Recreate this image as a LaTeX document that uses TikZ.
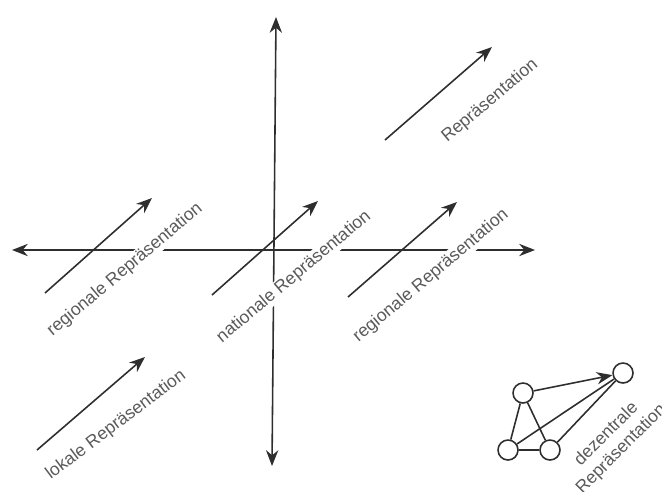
\documentclass[tikz,border=0pt]{standalone}
\usepackage{fontspec}
\setmainfont{Liberation Sans}
\usetikzlibrary{arrows.meta, positioning}
\definecolor{inkgray}{HTML}{2e2e2e}
\definecolor{textgray}{HTML}{5a5a5a}

\begin{document}
\begin{tikzpicture}[x=0.02cm, y=-0.02cm,
  axes/.style={{Stealth[length=9pt,width=7pt]}-{Stealth[length=9pt,width=7pt]}, inkgray, line width=0.9pt},
  repr/.style={-{Stealth[length=9pt,width=7pt]}, inkgray, line width=0.9pt},
  reprlabel/.style={font=\fontsize{10}{12}\selectfont, textgray, rotate=40, fill=white, inner sep=0.6pt},
  agent/.style={circle, draw=inkgray, line width=0.9pt, minimum size=0.4cm, inner sep=0pt}]
  \useasboundingbox (0,0) rectangle (662,491);

  % Axes
  \coordinate (west) at (12,250);
  \coordinate (east) at (535,250);
  \coordinate (north) at (276,17);
  \coordinate (south) at (272,466);
  \draw[axes] (west) -- (east);
  \draw[axes] (north) -- (south);

  % Labels (white background cuts the axes)
  \node[reprlabel] (lab top) at (490,101) {Repräsentation};
  \node[reprlabel] (lab regl) at (125,270) {regionale Repräsentation};
  \node[reprlabel] (lab nat) at (294,277) {nationale Repräsentation};
  \node[reprlabel] (lab regr) at (431,276) {regionale Repräsentation};
  \node[reprlabel, rotate=-3] (lab lok) at (116,425) {lokale Repräsentation};

  % Representation arrows
  \coordinate (top s) at (385,140);  \coordinate (top e) at (492,47);
  \coordinate (regl s) at (45,293);  \coordinate (regl e) at (152,198);
  \coordinate (nat s) at (212,295);  \coordinate (nat e) at (318,201);
  \coordinate (regr s) at (348,297); \coordinate (regr e) at (457,202);
  \coordinate (lok s) at (37,450);   \coordinate (lok e) at (145,357);
  \draw[repr] (top s) -- (top e);
  \draw[repr] (regl s) -- (regl e);
  \draw[repr] (nat s) -- (nat e);
  \draw[repr] (regr s) -- (regr e);
  \draw[repr] (lok s) -- (lok e);

  % Decentral network
  \node[agent] (a) at (523,393) {};
  \node[agent] (b) at (508,450) {};
  \node[agent] (c) at (550,450) {};
  \node[agent] (d) at (623,373) {};
  \draw[repr] (a) -- (d);
  \draw[inkgray, line width=0.9pt] (a) -- (b) (a) -- (c) (b) -- (c) (b) -- (d) (c) -- (d);
  \node[reprlabel, rotate=5, align=center, fill=none, inner sep=0pt] (lab dez) at (614,442) {dezentrale\\Repräsentation};
\end{tikzpicture}
\end{document}
